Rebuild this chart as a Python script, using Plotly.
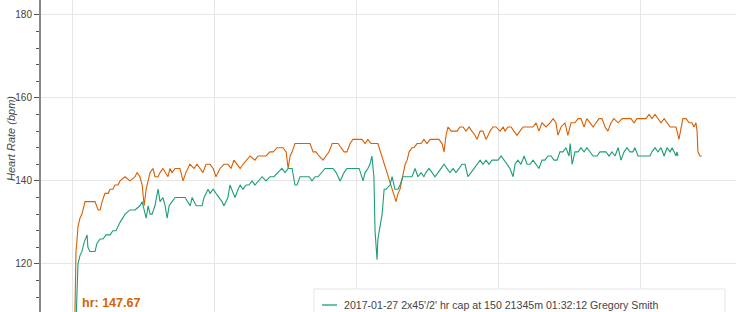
import plotly.graph_objects as go

# ---- data: distance (m) and heart rate (bpm) ----
orange_dist = [
    70, 140, 180, 210, 280, 350, 460, 560, 630, 810,
    920, 990, 1060, 1160, 1270, 1340, 1440, 1510, 1620, 1690,
    1870, 2040, 2220, 2290, 2390, 2470, 2540, 2610, 2680, 2750,
    2850, 2920, 3030, 3100, 3200, 3280, 3380, 3450, 3520, 3630,
    3800, 3910, 4010, 4150, 4300, 4400, 4510, 4610, 4720, 4790,
    4860, 4970, 5070, 5210, 5350, 5490, 5600, 5700, 5810, 5920,
    6020, 6160, 6270, 6440, 6550, 6690, 6830, 6970, 7080, 7220,
    7320, 7430, 7540, 7610, 7680, 7750, 7850, 7960, 8060, 8170,
    8270, 8380, 8490, 8590, 8700, 8840, 8940, 9050, 9160, 9260,
    9370, 9470, 9580, 9680, 9790, 9890, 10000, 10110, 10210, 10320,
    10420, 10530, 10670, 10770, 11410, 11480, 11550, 11650, 11730, 11800,
    11870, 11970, 12040, 12150, 12290, 12390, 12500, 12610, 12710, 12820,
    12920, 13030, 13100, 13170, 13240, 13350, 13450, 13560, 13660, 13770,
    13870, 13980, 14080, 14190, 14260, 14370, 14470, 14580, 14720, 14820,
    14930, 15070, 15180, 15250, 15350, 15460, 15560, 15670, 15770, 15880,
    15990, 16130, 16230, 16340, 16440, 16550, 16690, 16830, 16940, 17040,
    17110, 17220, 17360, 17460, 17570, 17710, 17820, 17920, 18030, 18130,
    18240, 18350, 18450, 18560, 18660, 18770, 18870, 18980, 19080, 19230,
    19370, 19470, 19580, 19680, 19790, 19890, 20000, 20110, 20210, 20320,
    20420, 20530, 20630, 20740, 20850, 20950, 21060, 21160, 21270, 21370,
    21440, 21510, 21620, 21730, 21830, 21900, 21970, 22010, 22040, 22110,
    22180,
]
orange_hr = [
    95, 123, 126, 129, 131, 132, 135, 135, 135, 135,
    133, 133, 135, 137, 137, 138, 138, 139, 139, 140,
    141, 140, 141, 142, 141, 139, 134, 138, 140, 142,
    143, 141, 141, 142, 143, 142, 141, 143, 142, 143,
    143, 140, 142, 144, 143, 144, 143, 142, 144, 144,
    144, 143, 141, 143, 144, 144, 143, 145, 144, 143,
    144, 145, 146, 145, 146, 146, 146, 147, 147, 148,
    148, 148, 147, 143, 146, 147, 149, 149, 149, 149,
    149, 149, 147, 147, 146, 145, 146, 147, 149, 149,
    149, 148, 147, 147, 149, 150, 150, 150, 150, 149,
    150, 149, 149, 149, 135, 137, 138, 141, 144, 145,
    147, 148, 148, 149, 149, 150, 149, 150, 150, 150,
    150, 149, 147, 151, 153, 152, 152, 152, 153, 153,
    152, 153, 152, 151, 150, 152, 152, 150, 152, 153,
    153, 152, 153, 152, 153, 153, 152, 151, 152, 153,
    153, 153, 153, 154, 152, 154, 153, 154, 155, 154,
    151, 153, 154, 151, 154, 154, 155, 155, 153, 155,
    154, 153, 154, 155, 155, 153, 152, 154, 155, 154,
    155, 155, 155, 155, 154, 155, 155, 155, 155, 156,
    155, 156, 155, 154, 155, 154, 153, 153, 153, 150,
    153, 155, 155, 154, 154, 153, 154, 152, 147, 146,
    146,
]

green_dist = [
    110, 210, 280, 350, 420, 530, 560, 630, 700, 810,
    880, 990, 1090, 1200, 1340, 1440, 1550, 1620, 1690, 1870,
    2040, 2220, 2390, 2470, 2540, 2610, 2680, 2750, 2820, 2920,
    3030, 3100, 3200, 3280, 3350, 3420, 3520, 3630, 3800, 3980,
    4160, 4230, 4370, 4510, 4580, 4650, 4790, 4860, 4970, 5070,
    5180, 5280, 5350, 5490, 5560, 5670, 5740, 5850, 5920, 6020,
    6130, 6230, 6340, 6440, 6550, 6690, 6830, 6970, 7110, 7250,
    7390, 7500, 7610, 7750, 7850, 7920, 8030, 8130, 8240, 8350,
    8450, 8560, 8660, 8770, 8910, 9080, 9190, 9300, 9440, 9580,
    9680, 9790, 9890, 10000, 10110, 10250, 10320, 10420, 10490, 10560,
    10630, 10670, 10740, 10770, 10850, 10920, 10990, 11060, 11200, 11270,
    11370, 11480, 11550, 11650, 11760, 11870, 11970, 12080, 12180, 12290,
    12390, 12460, 12570, 12680, 12780, 12890, 12990, 13100, 13200, 13310,
    13420, 13520, 13630, 13730, 13840, 13940, 14050, 14150, 14260, 14370,
    14470, 14580, 14680, 14790, 14890, 15000, 15110, 15210, 15320, 15420,
    15530, 15600, 15700, 15810, 15920, 16020, 16130, 16230, 16340, 16440,
    16550, 16650, 16760, 16870, 16970, 17080, 17180, 17290, 17390, 17500,
    17540, 17610, 17710, 17820, 17920, 18030, 18130, 18240, 18350, 18490,
    18590, 18700, 18800, 18910, 19010, 19120, 19230, 19330, 19440, 19540,
    19650, 19750, 19820, 19930, 20040, 20180, 20350, 20420, 20530, 20630,
    20740, 20850, 20950, 21060, 21130, 21200, 21270, 21300, 21340,
]
green_hr = [
    100, 120, 122, 123, 125, 127, 124, 123, 123, 123,
    125, 126, 126, 127, 127, 128, 128, 129, 130, 132,
    133, 133, 134, 135, 133, 131, 134, 132, 132, 134,
    138, 135, 136, 134, 131, 134, 135, 136, 136, 136,
    134, 136, 134, 134, 134, 136, 138, 137, 138, 137,
    136, 135, 134, 136, 139, 137, 136, 138, 139, 138,
    139, 139, 140, 139, 140, 141, 140, 141, 141, 142,
    143, 142, 143, 143, 139, 139, 141, 141, 141, 141,
    140, 141, 141, 142, 143, 143, 143, 142, 140, 142,
    143, 143, 143, 143, 143, 140, 142, 143, 144, 146,
    141, 128, 121, 126, 129, 132, 138, 138, 139, 141,
    138, 138, 139, 141, 141, 141, 141, 143, 141, 142,
    141, 142, 143, 142, 141, 142, 143, 144, 143, 142,
    143, 142, 143, 144, 144, 141, 142, 143, 144, 145,
    144, 145, 144, 145, 145, 145, 146, 145, 144, 143,
    141, 144, 145, 144, 146, 144, 144, 145, 144, 143,
    145, 145, 146, 146, 145, 145, 147, 147, 148, 146,
    149, 144, 147, 147, 148, 147, 148, 147, 146, 146,
    147, 147, 147, 146, 147, 146, 148, 145, 147, 148,
    147, 147, 148, 146, 146, 146, 146, 147, 148, 147,
    148, 146, 148, 147, 148, 147, 146, 147, 146,
]

green_name = "2017-01-27 2x45'/2' hr cap at 150 21345m 01:32:12 Gregory Smith"
hover_label = "hr: 147.67"
y_title = "Heart Rate (bpm)"

GREEN = "#1b9e77"
ORANGE = "#d95f02"
FONT = "Liberation Sans, Arial, Helvetica, sans-serif"

W, H = 736, 312
ML = 41
PW = W - ML


def px(x):
    return (x - ML) / PW


def py(y):
    return (H - y) / H


fig = go.Figure()
fig.add_trace(go.Scatter(x=orange_dist, y=orange_hr, mode="lines",
                         line=dict(color=ORANGE, width=1.1), showlegend=False))
fig.add_trace(go.Scatter(x=green_dist, y=green_hr, mode="lines", name=green_name,
                         line=dict(color=GREEN, width=1.1), showlegend=False))

fig.update_layout(
    width=W, height=H,
    margin=dict(l=ML, r=0, t=0, b=0, pad=0),
    paper_bgcolor="white", plot_bgcolor="white",
    font=dict(family=FONT, color="#444"),
    xaxis=dict(range=[-1092, 23380], dtick=5000, tick0=0, showticklabels=False,
               ticks="", showline=False, zeroline=False,
               showgrid=True, gridcolor="#e6e6e6", gridwidth=1),
    yaxis=dict(range=[108.4, 183.6], dtick=20, tick0=0, ticks="outside",
               ticklen=5, tickwidth=1, tickcolor="#555",
               showline=True, linecolor="#888", linewidth=2,
               zeroline=False, showgrid=True, gridcolor="#e6e6e6", gridwidth=1,
               tickfont=dict(size=10, color="#444"), automargin=False,
               minor=dict(dtick=4, tick0=0, ticks="outside", ticklen=3,
                          tickcolor="#555", showgrid=False)),
    shapes=[
        dict(type="rect", xref="paper", yref="paper",
             x0=px(314), x1=px(725), y0=py(330), y1=py(289),
             line=dict(color="#e5e5e5", width=1), fillcolor="white", layer="above"),
        dict(type="line", xref="paper", yref="paper",
             x0=px(322), x1=px(337), y0=py(305), y1=py(305),
             line=dict(color=GREEN, width=1.3), layer="above"),
    ],
    annotations=[
        dict(text=green_name, xref="paper", yref="paper", x=px(342), y=py(305),
             xanchor="left", yanchor="middle", showarrow=False,
             font=dict(size=10.6, color="#444", family=FONT)),
        dict(text="<b>" + hover_label + "</b>", xref="paper", yref="paper",
             x=px(80), y=py(303), xanchor="left", yanchor="middle", showarrow=False,
             font=dict(size=12.5, color=ORANGE, family=FONT)),
        dict(text="<i>" + y_title + "</i>", xref="paper", yref="paper",
             x=px(11), y=py(139), xanchor="center", yanchor="middle",
             textangle=-90, showarrow=False,
             font=dict(size=11, color="#444", family=FONT)),
    ],
)

fig.write_html("out.html")
